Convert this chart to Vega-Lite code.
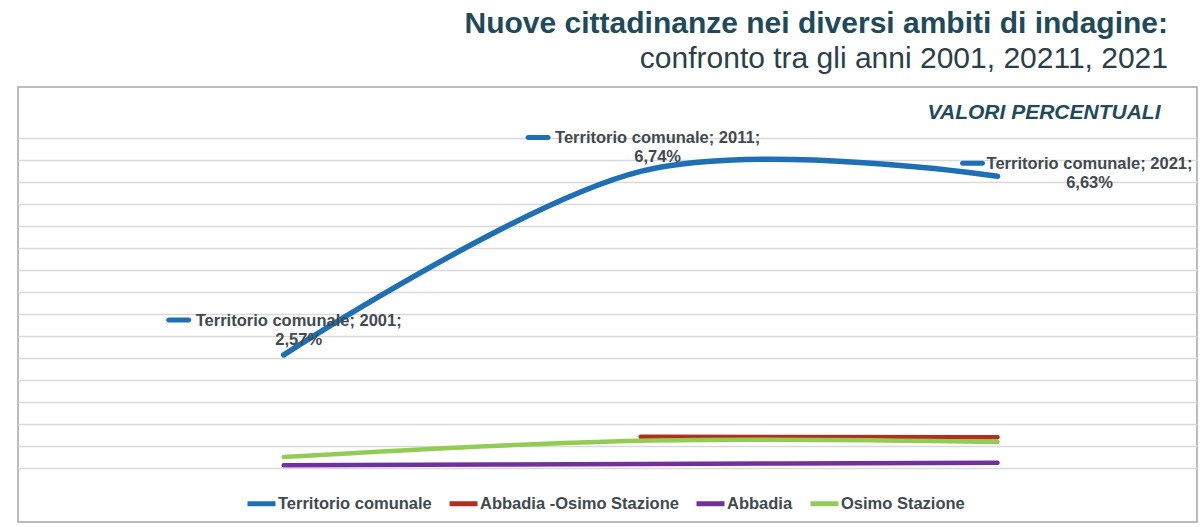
{
  "$schema": "https://vega.github.io/schema/vega-lite/v6.json",
  "width": 1179,
  "height": 435,
  "autosize": {"type": "none"},
  "padding": {"left": 18, "top": 87, "right": 5, "bottom": 5},
  "background": "white",
  "config": {
    "view": {"stroke": "#a6a6a6", "strokeWidth": 1.5},
    "font": "Liberation Sans"
  },
  "title": {
    "text": "Nuove cittadinanze nei diversi ambiti di indagine:",
    "subtitle": "confronto tra gli anni 2001, 20211, 2021",
    "anchor": "end",
    "frame": "group",
    "dx": -29,
    "offset": 13,
    "font": "Liberation Sans",
    "fontSize": 30,
    "fontWeight": "bold",
    "color": "#1f4a5a",
    "subtitleFont": "Liberation Sans",
    "subtitleFontSize": 30,
    "subtitleColor": "#2b3f48",
    "subtitlePadding": 5
  },
  "data": {
    "values": [
      {"serie": "Territorio comunale", "anno": "2001", "valore": 2.57, "etichetta": ["Territorio comunale; 2001;", "2,57%"]},
      {"serie": "Territorio comunale", "anno": "2011", "valore": 6.74, "etichetta": ["Territorio comunale; 2011;", "6,74%"]},
      {"serie": "Territorio comunale", "anno": "2021", "valore": 6.63, "etichetta": ["Territorio comunale; 2021;", "6,63%"]},
      {"serie": "Abbadia -Osimo Stazione", "anno": "2011", "valore": 0.71},
      {"serie": "Abbadia -Osimo Stazione", "anno": "2021", "valore": 0.70},
      {"serie": "Abbadia", "anno": "2001", "valore": 0.06},
      {"serie": "Abbadia", "anno": "2011", "valore": 0.09},
      {"serie": "Abbadia", "anno": "2021", "valore": 0.12},
      {"serie": "Osimo Stazione", "anno": "2001", "valore": 0.25},
      {"serie": "Osimo Stazione", "anno": "2011", "valore": 0.62},
      {"serie": "Osimo Stazione", "anno": "2021", "valore": 0.59}
    ]
  },
  "encoding": {
    "x": {
      "field": "anno",
      "type": "ordinal",
      "scale": {"type": "point", "padding": 0.6517, "align": 0.5712},
      "axis": null
    },
    "y": {
      "field": "valore",
      "type": "quantitative",
      "scale": {"domain": [-1.2273, 8.659], "nice": false, "zero": false},
      "axis": {
        "values": [0, 0.5, 1, 1.5, 2, 2.5, 3, 3.5, 4, 4.5, 5, 5.5, 6, 6.5, 7, 7.5],
        "labels": false,
        "ticks": false,
        "domain": false,
        "grid": true,
        "gridColor": "#d9d9d9",
        "gridWidth": 1.3,
        "title": "VALORI PERCENTUALI",
        "titleAngle": 0,
        "titleAlign": "right",
        "titleBaseline": "middle",
        "titleX": 1142,
        "titleY": 25,
        "titleFont": "Liberation Sans",
        "titleFontSize": 21,
        "titleFontStyle": "italic",
        "titleFontWeight": "bold",
        "titleColor": "#1f4a5a"
      }
    }
  },
  "layer": [
    {
      "transform": [{"filter": "datum.serie !== 'Territorio comunale'"}],
      "mark": {"type": "line", "interpolate": "cardinal", "strokeWidth": 4.5, "strokeCap": "round"},
      "encoding": {
        "color": {
          "field": "serie",
          "type": "nominal",
          "scale": {
            "domain": ["Territorio comunale", "Abbadia -Osimo Stazione", "Abbadia", "Osimo Stazione"],
            "range": ["#1f6fb4", "#b0301c", "#7030a0", "#92cc55"]
          },
          "legend": {
            "title": null,
            "orient": "none",
            "legendX": 227,
            "legendY": 400,
            "direction": "horizontal",
            "columns": 4,
            "columnPadding": 7,
            "symbolType": "stroke",
            "symbolSize": 784,
            "symbolStrokeWidth": 5,
            "labelFont": "Liberation Sans",
            "labelFontSize": 16.5,
            "labelFontWeight": "bold",
            "labelColor": "#3d4a50",
            "labelOffset": 0,
            "labelLimit": 0
          }
        }
      }
    },
    {
      "transform": [{"filter": "datum.serie === 'Territorio comunale'"}],
      "mark": {"type": "line", "interpolate": "cardinal", "strokeWidth": 5.5, "strokeCap": "round"},
      "encoding": {
        "color": {
          "field": "serie",
          "type": "nominal",
          "scale": {
            "domain": ["Territorio comunale", "Abbadia -Osimo Stazione", "Abbadia", "Osimo Stazione"],
            "range": ["#1f6fb4", "#b0301c", "#7030a0", "#92cc55"]
          }
        }
      }
    },
    {
      "transform": [{"filter": "datum.serie === 'Territorio comunale' && datum.anno === '2001'"}],
      "mark": {"type": "text", "align": "center", "baseline": "alphabetic", "dx": 15, "dy": -29, "lineHeight": 19, "fontSize": 16.5, "fontWeight": "bold", "font": "Liberation Sans", "color": "#404a4f"},
      "encoding": {"text": {"field": "etichetta"}}
    },
    {
      "transform": [{"filter": "datum.serie === 'Territorio comunale' && datum.anno === '2011'"}],
      "mark": {"type": "text", "align": "center", "baseline": "alphabetic", "dx": 17, "dy": -28, "lineHeight": 19, "fontSize": 16.5, "fontWeight": "bold", "font": "Liberation Sans", "color": "#404a4f"},
      "encoding": {"text": {"field": "etichetta"}}
    },
    {
      "transform": [{"filter": "datum.serie === 'Territorio comunale' && datum.anno === '2021'"}],
      "mark": {"type": "text", "align": "center", "baseline": "alphabetic", "dx": 92, "dy": -7, "lineHeight": 19, "fontSize": 16.5, "fontWeight": "bold", "font": "Liberation Sans", "color": "#404a4f"},
      "encoding": {"text": {"field": "etichetta"}}
    },
    {
      "transform": [{"filter": "datum.serie === 'Territorio comunale' && datum.anno === '2001'"}],
      "mark": {"type": "tick", "orient": "horizontal", "size": 25, "thickness": 5, "cornerRadius": 2.5, "color": "#1f6fb4", "opacity": 1, "xOffset": -105, "yOffset": -35},
      "encoding": {}
    },
    {
      "transform": [{"filter": "datum.serie === 'Territorio comunale' && datum.anno === '2011'"}],
      "mark": {"type": "tick", "orient": "horizontal", "size": 25, "thickness": 5, "cornerRadius": 2.5, "color": "#1f6fb4", "opacity": 1, "xOffset": -102.5, "yOffset": -34},
      "encoding": {}
    },
    {
      "transform": [{"filter": "datum.serie === 'Territorio comunale' && datum.anno === '2021'"}],
      "mark": {"type": "tick", "orient": "horizontal", "size": 25, "thickness": 5, "cornerRadius": 2.5, "color": "#1f6fb4", "opacity": 1, "xOffset": -25, "yOffset": -13},
      "encoding": {}
    }
  ]
}
